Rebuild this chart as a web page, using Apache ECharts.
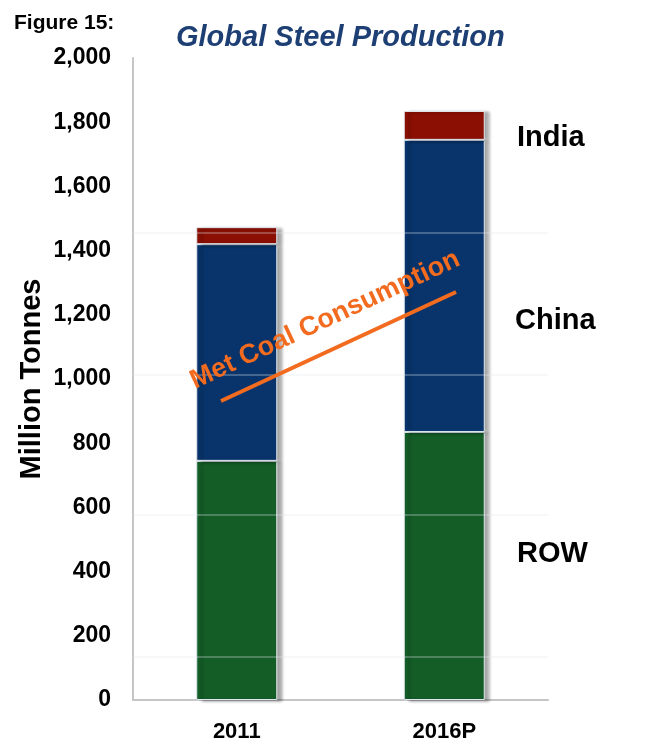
<!DOCTYPE html>
<html>
<head>
<meta charset="utf-8">
<script src="https://cdn.jsdelivr.net/npm/echarts@6/dist/echarts.min.js"></script>
<style>html,body{margin:0;padding:0;background:#fff}#c{width:649px;height:746px}</style>
</head>
<body>
<div id="c"></div>
<script>
const categories = ['2011', '2016P'];
const rowValues = [745, 835];
const chinaValues = [675, 910];
const indiaValues = [53, 90];
const yTicks = { min: 0, max: 2000, interval: 200 };
const faintGridValues = [134, 576, 1012, 1455];

const chart = echarts.init(document.getElementById('c'), null, { renderer: 'canvas' });
const FONT = '"Liberation Sans", Arial, sans-serif';
const shadow = { shadowColor: 'rgba(0,0,0,0.35)', shadowBlur: 3, shadowOffsetX: 5, shadowOffsetY: 1 };
const seg = (name, data, color, extra) => Object.assign({
  name, type: 'bar', stack: 'total', data, barWidth: 81,
  itemStyle: Object.assign({ color, borderColor: '#dfe6ee', borderWidth: 1 }, shadow),
  emphasis: { disabled: true }
}, extra || {});

chart.setOption({
  animation: false,
  backgroundColor: '#ffffff',
  title: [
    { text: 'Figure 15:', left: 9, top: 8, textStyle: { fontFamily: FONT, fontWeight: 'bold', fontSize: 21, color: '#000' } },
    { text: 'Global Steel Production', left: 171, top: 18, textStyle: { fontFamily: FONT, fontWeight: 'bold', fontStyle: 'italic', fontSize: 29, color: '#1d3f74' } }
  ],
  grid: { left: 133, right: 101, top: 58, bottom: 46 },
  xAxis: {
    type: 'category', data: categories,
    axisLine: { lineStyle: { color: '#c6c6c6', width: 2 } },
    axisTick: { show: false },
    axisLabel: { fontFamily: FONT, fontWeight: 'bold', fontSize: 22, color: '#000', margin: 21 }
  },
  yAxis: {
    type: 'value', min: yTicks.min, max: yTicks.max, interval: yTicks.interval,
    name: 'Million Tonnes', nameLocation: 'middle', nameRotate: 90, nameGap: 87,
    nameMoveOverlap: false,
    nameTextStyle: { fontFamily: FONT, fontWeight: 'bold', fontSize: 29, color: '#000' },
    axisLine: { show: true, lineStyle: { color: '#c6c6c6', width: 2 } },
    axisTick: { show: false },
    splitLine: { show: false },
    axisLabel: { fontFamily: FONT, fontWeight: 'bold', fontSize: 23, color: '#000', margin: 22,
      formatter: v => v.toLocaleString('en-US') }
  },
  series: [
    seg('ROW', rowValues, '#145d27'),
    seg('China', chinaValues, '#08346b'),
    seg('India', indiaValues, '#8b0f02', {
      markLine: {
        silent: true, symbol: 'none', label: { show: false },
        lineStyle: { color: 'rgba(225,230,236,0.38)', type: 'solid', width: 1.5 },
        data: faintGridValues.map(v => ({ yAxis: v }))
      }
    })
  ],
  graphic: [
    { type: 'line', z: 100, shape: { x1: 221, y1: 401, x2: 456, y2: 292 }, style: { stroke: '#f26b1f', lineWidth: 4 } },
    { type: 'text', z: 100, x: 325, y: 320, rotation: 25 * Math.PI / 180,
      style: { text: 'Met Coal Consumption', fill: '#f26b1f', font: 'bold 27px ' + FONT, align: 'center', verticalAlign: 'middle' } },
    { type: 'text', left: 517, top: 123, style: { text: 'India', fill: '#000', font: 'bold 29px ' + FONT } },
    { type: 'text', left: 515, top: 306, style: { text: 'China', fill: '#000', font: 'bold 29px ' + FONT } },
    { type: 'text', left: 517, top: 539, style: { text: 'ROW', fill: '#000', font: 'bold 29px ' + FONT } }
  ]
});
</script>
</body>
</html>
